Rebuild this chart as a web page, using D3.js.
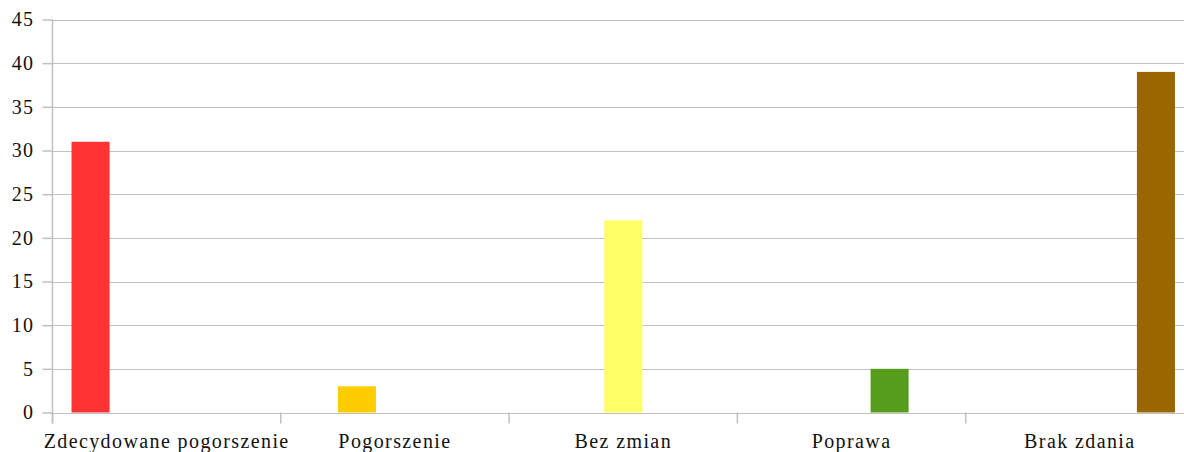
<!DOCTYPE html>
<html><head><meta charset="utf-8">
<script src="https://cdn.jsdelivr.net/npm/d3@7"></script>
<style>body{margin:0;background:#fff}svg{display:block}</style>
</head><body><svg id="c" width="1184" height="452"></svg>
<script>
const categories = ["Zdecydowane pogorszenie","Pogorszenie","Bez zmian","Poprawa","Brak zdania"];
const values = [31,3,22,5,39];
const colors = ["#FF3333","#FFCC00","#FFFF66","#579D1C","#996600"];
const yTicks = [0,5,10,15,20,25,30,35,40,45];

const svg = d3.select("#c");
const m = {l:52.5, t:19.5, b:412.5};
const plotW = 228.3*5;
const x = d3.scaleBand().domain(categories).range([m.l, m.l+plotW]).paddingInner(0).paddingOuter(0);
const y = d3.scaleLinear().domain([0,45]).range([m.b, m.t]);
const inner = d3.scaleBand().domain(d3.range(categories.length)).range([0, x.bandwidth()]).paddingInner(0).paddingOuter(0.5);

// gridlines
svg.append("g").selectAll("line").data(yTicks).join("line")
  .attr("x1", m.l).attr("x2", m.l+plotW)
  .attr("y1", d=>Math.round(y(d))+0.5).attr("y2", d=>Math.round(y(d))+0.5)
  .attr("stroke","#c0c0c0").attr("stroke-width",1.2);

// bars
svg.append("g").selectAll("rect").data(values).join("rect")
  .attr("x",(d,i)=>x(categories[i])+inner(i))
  .attr("width",inner.bandwidth())
  .attr("y",d=>y(d)).attr("height",d=>y(0)-y(d))
  .attr("fill",(d,i)=>colors[i]);

// y axis
const ya = svg.append("g").attr("transform",`translate(${m.l},0)`)
  .call(d3.axisLeft(y).tickValues(yTicks).tickSize(10).tickPadding(8));
ya.select(".domain").attr("d",`M0,${m.t}V${m.b+11}`);
// x axis
const xa = svg.append("g").attr("transform",`translate(0,${m.b})`)
  .call(d3.axisBottom(x).tickSize(0).tickPadding(21));
xa.select(".domain").remove();
svg.append("g").selectAll("line").data(d3.range(categories.length+1)).join("line")
  .attr("x1",i=>m.l+i*x.bandwidth()).attr("x2",i=>m.l+i*x.bandwidth())
  .attr("y1",m.b).attr("y2",m.b+11).attr("stroke","#c0c0c0").attr("stroke-width",1.5);

svg.selectAll(".tick line").attr("stroke","#c0c0c0").attr("stroke-width",1.5);
ya.select(".domain").attr("stroke","#c0c0c0").attr("stroke-width",1.5);
svg.selectAll(".tick text")
  .style("font-family","'Liberation Serif', 'Times New Roman', serif")
  .style("font-size","20px").style("letter-spacing","1.4px").attr("fill","#111");
</script></body></html>
